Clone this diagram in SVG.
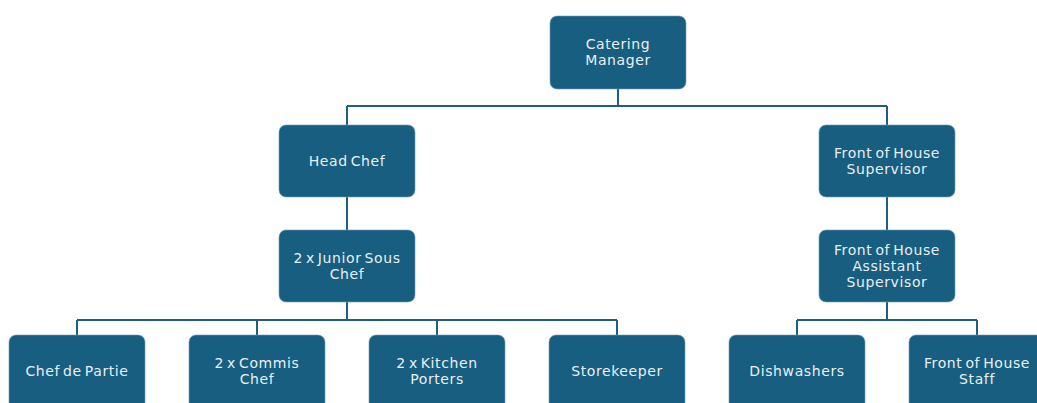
<svg xmlns="http://www.w3.org/2000/svg" width="1037" height="403" viewBox="0 0 1037 403">
<style>
.box{fill:#175e80;stroke:#6f9ab0;stroke-width:0.6}
.t{font-family:"DejaVu Sans",sans-serif;font-size:14px;letter-spacing:0.6px;word-spacing:-2px;fill:#e9f0f4;text-anchor:middle}
.c{fill:none;stroke:#1d5f7f;stroke-width:2}
</style>
<rect width="1037" height="403" fill="#ffffff"/>
<g id="connectors" class="c">
<path d="M618,89V106M347,106H887M347,106V125M887,106V125"/>
<path d="M347,197V230M887,197V230"/>
<path d="M347,302V320M77,320H617M77,320V335M257,320V335M437,320V335M617,320V335"/>
<path d="M887,302V320M797,320H977M797,320V335M977,320V335"/>
</g>
<g id="catering-manager"><rect class="box" x="550" y="16" width="136" height="73" rx="7"/><text class="t" x="618" y="49">Catering</text><text class="t" x="618" y="65">Manager</text></g>
<g id="head-chef"><rect class="box" x="279" y="125" width="136" height="72" rx="7"/><text class="t" x="347" y="166">Head Chef</text></g>
<g id="foh-supervisor"><rect class="box" x="819" y="125" width="136" height="72" rx="7"/><text class="t" x="887" y="158">Front of House</text><text class="t" x="887" y="174">Supervisor</text></g>
<g id="junior-sous-chef"><rect class="box" x="279" y="230" width="136" height="72" rx="7"/><text class="t" x="347" y="263">2 x Junior Sous</text><text class="t" x="347" y="279">Chef</text></g>
<g id="foh-assistant-supervisor"><rect class="box" x="819" y="230" width="136" height="72" rx="7"/><text class="t" x="887" y="255">Front of House</text><text class="t" x="887" y="271">Assistant</text><text class="t" x="887" y="287">Supervisor</text></g>
<g id="chef-de-partie"><rect class="box" x="9" y="335" width="136" height="80" rx="7"/><text class="t" x="77" y="376">Chef de Partie</text></g>
<g id="commis-chef"><rect class="box" x="189" y="335" width="136" height="80" rx="7"/><text class="t" x="257" y="368">2 x Commis</text><text class="t" x="257" y="384">Chef</text></g>
<g id="kitchen-porters"><rect class="box" x="369" y="335" width="136" height="80" rx="7"/><text class="t" x="437" y="368">2 x Kitchen</text><text class="t" x="437" y="384">Porters</text></g>
<g id="storekeeper"><rect class="box" x="549" y="335" width="136" height="80" rx="7"/><text class="t" x="617" y="376">Storekeeper</text></g>
<g id="dishwashers"><rect class="box" x="729" y="335" width="136" height="80" rx="7"/><text class="t" x="797" y="376">Dishwashers</text></g>
<g id="foh-staff"><rect class="box" x="909" y="335" width="136" height="80" rx="7"/><text class="t" x="977" y="368">Front of House</text><text class="t" x="977" y="384">Staff</text></g>
</svg>
